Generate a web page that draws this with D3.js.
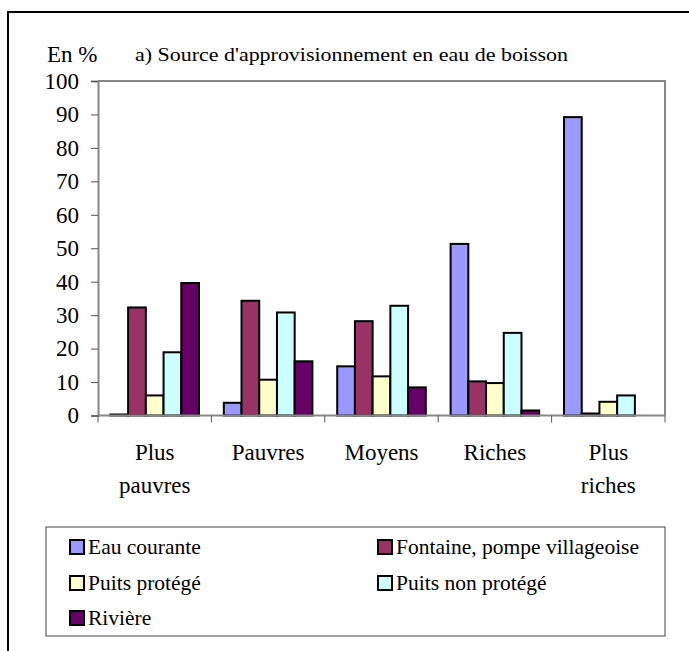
<!DOCTYPE html>
<html>
<head>
<meta charset="utf-8">
<script src="https://cdn.jsdelivr.net/npm/d3@7"></script>
<style>
  body { margin: 0; background: #fff; }
  svg { display: block; font-family: "Liberation Serif", "Times New Roman", serif; }
</style>
</head>
<body>
<svg id="chart" width="689" height="651"></svg>
<script>
const categories = ['Plus pauvres', 'Pauvres', 'Moyens', 'Riches', 'Plus riches'];
const categoryLines = [['Plus', 'pauvres'], ['Pauvres'], ['Moyens'], ['Riches'], ['Plus', 'riches']];
const seriesNames = ['Eau courante', 'Fontaine, pompe villageoise', 'Puits protégé', 'Puits non protégé', 'Rivière'];
const seriesColors = ['#9999ff', '#993366', '#ffffcc', '#ccffff', '#660066'];
const eauCourante = [0.3, 3.8, 14.7, 51.3, 89.2];
const fontaine = [32.3, 34.3, 28.2, 10.2, 0.6];
const puitsProtege = [6.0, 10.7, 11.7, 9.7, 4.1];
const puitsNonProtege = [18.9, 30.8, 32.8, 24.7, 6.0];
const riviere = [39.6, 16.2, 8.4, 1.5, 0];
const yTicks = [0, 10, 20, 30, 40, 50, 60, 70, 80, 90, 100];

const seriesValues = [eauCourante, fontaine, puitsProtege, puitsNonProtege, riviere];

const plot = { left: 98, right: 665, top: 81, bottom: 415.5 };

const svg = d3.select('#chart');

// outer frame
svg.append('rect')
  .attr('x', 8).attr('y', 12)
  .attr('width', 720).attr('height', 700)
  .attr('fill', 'none')
  .attr('stroke', '#000')
  .attr('stroke-width', 2);

const x0 = d3.scaleBand()
  .domain(categories)
  .range([plot.left, plot.right])
  .padding(0);

const x1 = d3.scaleBand()
  .domain(seriesNames)
  .range([0, x0.bandwidth()])
  .paddingInner(0)
  .paddingOuter(0.7);

const y = d3.scaleLinear()
  .domain([0, 100])
  .range([plot.bottom, plot.top]);

// plot area border (top and right)
svg.append('path')
  .attr('d', `M${plot.left},${plot.top}H${plot.right}V${plot.bottom}`)
  .attr('fill', 'none')
  .attr('stroke', '#888')
  .attr('stroke-width', 2);

// bars
const groups = svg.append('g')
  .selectAll('g')
  .data(categories)
  .enter().append('g')
    .attr('transform', d => 'translate(' + x0(d) + ',0)');

groups.selectAll('rect')
  .data((c, i) => seriesNames.map((s, j) => ({ series: s, idx: j, value: seriesValues[j][i] })))
  .enter().filter(d => d.value > 0).append('rect')
    .attr('x', d => x1(d.series))
    .attr('width', x1.bandwidth())
    .attr('y', d => y(d.value))
    .attr('height', d => y(0) - y(d.value))
    .attr('fill', d => seriesColors[d.idx])
    .attr('stroke', '#000')
    .attr('stroke-width', 2);

// y axis
const yAxis = d3.axisLeft(y)
  .tickValues(yTicks)
  .tickSize(7)
  .tickPadding(12);

const yg = svg.append('g')
  .attr('transform', 'translate(' + plot.left + ',0)')
  .call(yAxis)
  .attr('font-family', null)
  .attr('font-size', 23);
yg.select('.domain').attr('stroke', '#888').attr('stroke-width', 2);
yg.selectAll('.tick line').attr('stroke', '#555');
yg.selectAll('.tick text').attr('fill', '#000');

// x axis
const xg = svg.append('g')
  .attr('transform', 'translate(0,' + plot.bottom + ')');
xg.append('line')
  .attr('x1', plot.left).attr('x2', plot.right)
  .attr('stroke', '#888').attr('stroke-width', 2);
xg.selectAll('line.tick')
  .data(categories.concat(['end']))
  .enter().append('line')
    .attr('class', 'tick')
    .attr('x1', (d, i) => plot.left + i * x0.step())
    .attr('x2', (d, i) => plot.left + i * x0.step())
    .attr('y1', 0).attr('y2', 7)
    .attr('stroke', '#555');

const labels = svg.append('g')
  .attr('font-size', 23)
  .attr('text-anchor', 'middle');
labels.selectAll('text')
  .data(categories)
  .enter().append('text')
    .attr('x', d => x0(d) + x0.bandwidth() / 2)
    .attr('y', 460)
    .each(function(d, i) {
      d3.select(this).selectAll('tspan')
        .data(categoryLines[i])
        .enter().append('tspan')
          .attr('x', x0(d) + x0.bandwidth() / 2)
          .attr('dy', (t, k) => k === 0 ? 0 : 33)
          .text(t => t);
    });

// titles
svg.append('text')
  .attr('x', 47).attr('y', 62)
  .attr('font-size', 23)
  .text('En %');

svg.append('text')
  .attr('x', 135).attr('y', 61)
  .attr('font-size', 19)
  .attr('textLength', 433)
  .attr('lengthAdjust', 'spacingAndGlyphs')
  .text("a) Source d'approvisionnement en eau de boisson");

// legend
svg.append('rect')
  .attr('x', 46).attr('y', 527)
  .attr('width', 619).attr('height', 109)
  .attr('fill', 'none')
  .attr('stroke', '#444')
  .attr('stroke-width', 1);

const legendPos = [[70, 547], [378, 547], [70, 583], [378, 583], [70, 618]];

const legend = svg.append('g')
  .attr('font-size', 21.5)
  .selectAll('g')
  .data(seriesNames)
  .enter().append('g')
    .attr('transform', (d, i) => 'translate(' + legendPos[i][0] + ',' + legendPos[i][1] + ')');

legend.append('rect')
  .attr('x', 0).attr('y', -7)
  .attr('width', 14).attr('height', 14)
  .attr('fill', (d, i) => seriesColors[i])
  .attr('stroke', '#000')
  .attr('stroke-width', 2);

legend.append('text')
  .attr('x', 18)
  .attr('y', 7)
  .text(d => d);
</script>
</body>
</html>
